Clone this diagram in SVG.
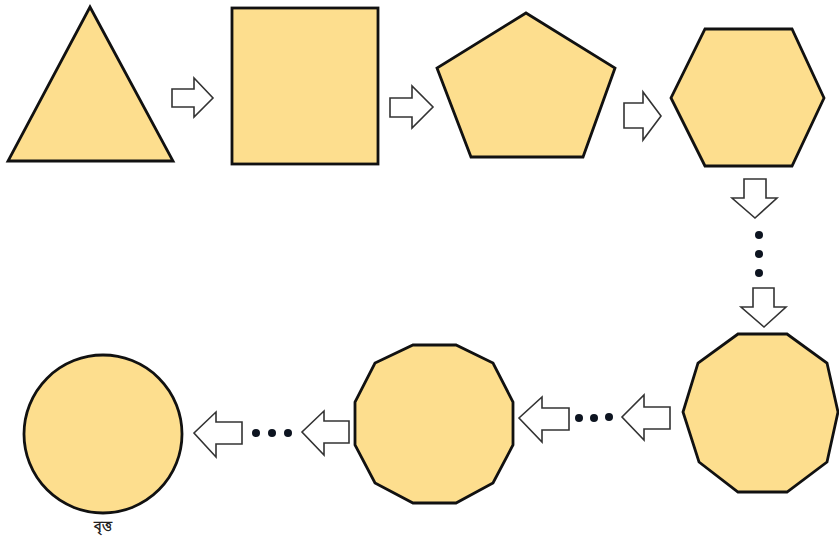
<svg xmlns="http://www.w3.org/2000/svg" width="839" height="541" viewBox="0 0 839 541">
<style>
.shape{fill:#FDDE8E;stroke:#111;stroke-width:2.8;stroke-linejoin:miter}
.arr{fill:#fff;stroke:#333;stroke-width:1.6;stroke-linejoin:miter}
.dot{fill:#0d1420}
.lbl{font-family:"Noto Sans","Noto Sans CJK SC",sans-serif;font-size:14px;font-weight:bold;fill:#222;text-anchor:middle}
</style>
<rect width="839" height="541" fill="#fff"/>
<g id="triangle"><polygon class="shape" points="90,7 173,161 8,161"/></g>
<g id="square"><rect class="shape" x="232" y="8" width="146" height="156"/></g>
<g id="pentagon"><polygon class="shape" points="526,13 615,68 583,157 471,157 437,68"/></g>
<g id="hexagon"><polygon class="shape" points="705,29 792,29 824,98 792,166 705,166 671,98"/></g>
<g id="decagon"><polygon class="shape" points="738,334 787,334 827,363 838,412 827,462 787,492 738,492 699,462 683,412 698,363"/></g>
<g id="dodecagon"><polygon class="shape" points="413,345 456,345 493,363 513,402 513,445 493,483 456,503 413,503 375,483 355,445 355,402 375,363"/></g>
<g id="circle"><circle class="shape" cx="103" cy="434" r="79"/><text class="lbl" x="103" y="531">বৃত্ত</text></g>
<g id="connectors">
<polygon class="arr" points="172,89 194,89 194,78 213,98 194,117 194,107 172,107"/>
<polygon class="arr" points="390,98 412,98 412,86 433,107 412,128 412,117 390,117"/>
<polygon class="arr" points="624,103 643,103 643,92 661,116 643,140 643,128 624,128"/>
<polygon class="arr" points="744,179 766,179 766,198 777,198 755,218 732,198 744,198"/>
<circle class="dot" cx="759" cy="235" r="4"/>
<circle class="dot" cx="759" cy="254" r="4"/>
<circle class="dot" cx="759" cy="273" r="4"/>
<polygon class="arr" points="753,288 774,288 774,307 786,307 764,327 741,307 753,307"/>
<polygon class="arr" points="670,407 644,407 644,395 622,417 644,440 644,429 670,429"/>
<circle class="dot" cx="579" cy="418" r="4"/>
<circle class="dot" cx="594" cy="418" r="4"/>
<circle class="dot" cx="609" cy="417" r="4"/>
<polygon class="arr" points="569,408 542,408 542,397 519,418 542,442 542,430 569,430"/>
<polygon class="arr" points="349,421 324,421 324,411 302,432 324,455 324,443 349,443"/>
<circle class="dot" cx="256" cy="433" r="4"/>
<circle class="dot" cx="272" cy="433" r="4"/>
<circle class="dot" cx="288" cy="433" r="4"/>
<polygon class="arr" points="242,422 216,422 216,412 194,433 216,457 216,444 242,444"/>
</g>
</svg>
